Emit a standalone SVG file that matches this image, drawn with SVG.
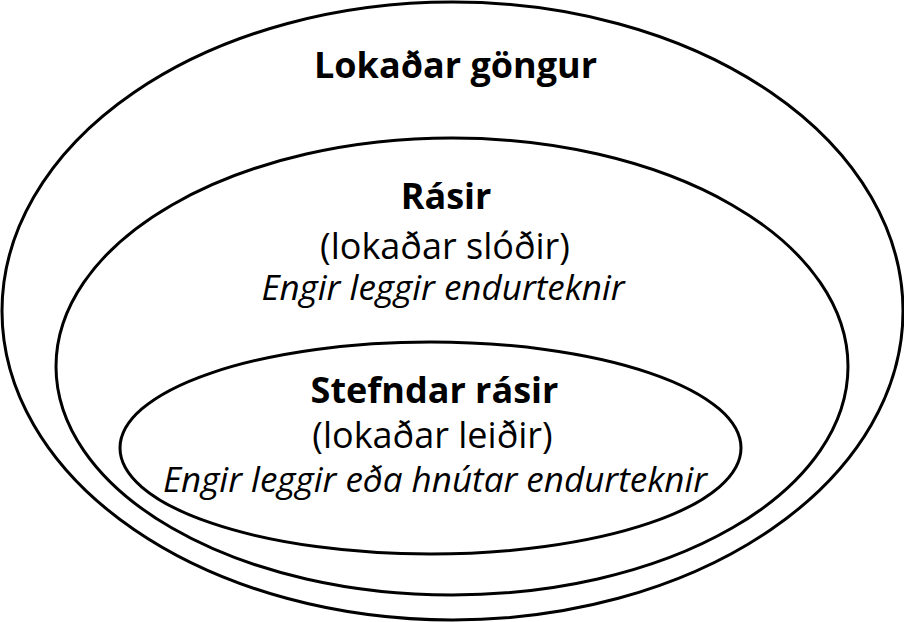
<svg xmlns="http://www.w3.org/2000/svg" width="904" height="622" viewBox="0 0 904 622">
<style>
.ring{fill:none;stroke:#000;stroke-width:3}
text{font-family:"Open Sans","Noto Sans","Liberation Sans",sans-serif;font-size:36px;fill:#000;text-anchor:middle}
.b{font-weight:bold}
.i{font-style:italic;font-size:35px}
</style>
<rect width="904" height="622" fill="#fff"/>
<g id="closed-walks">
<ellipse class="ring" cx="452.5" cy="311" rx="450.5" ry="309"/>
<text class="b" x="455.5" y="78">Lokaðar göngur</text>
</g>
<g id="circuits">
<ellipse class="ring" cx="452" cy="366.5" rx="396" ry="228.5"/>
<text class="b" x="446" y="209">Rásir</text>
<text x="445" y="259">(lokaðar slóðir)</text>
<text class="i" x="443" y="300">Engir leggir endurteknir</text>
</g>
<g id="cycles">
<ellipse class="ring" cx="430.5" cy="448" rx="310.5" ry="106"/>
<text class="b" x="434.5" y="403">Stefndar rásir</text>
<text x="432.5" y="448">(lokaðar leiðir)</text>
<text class="i" x="435" y="492">Engir leggir eða hnútar endurteknir</text>
</g>
<g id="connectors"/>
</svg>
